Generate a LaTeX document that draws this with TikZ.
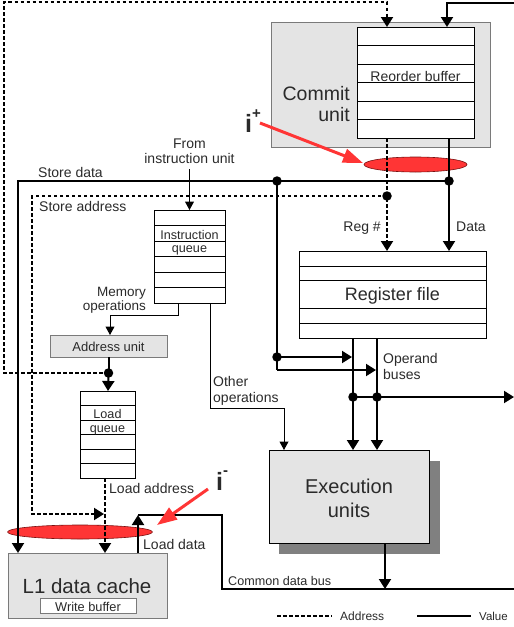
\documentclass[tikz,border=0pt]{standalone}
\usepackage{fontspec}
\setmainfont{Liberation Sans}
\usetikzlibrary{arrows.meta,calc,shapes.geometric}
\definecolor{boxgray}{HTML}{E4E4E4}
\definecolor{edgegray}{HTML}{7A7A7A}
\definecolor{shadowgray}{HTML}{808080}
\definecolor{txt}{HTML}{2A2A2A}
\definecolor{hotred}{HTML}{FF3535}
\definecolor{ellipseedge}{HTML}{7A1010}
\begin{document}
\begin{tikzpicture}[x=1pt,y=-1pt,
  val/.style={line width=2pt},
  addr/.style={line width=2pt,dash pattern=on 3.5pt off 2.5pt},
  fine/.style={line width=1pt},
  tip/.style={-{Triangle[width=12pt,length=10pt]}},
  smalltip/.style={-{Triangle[width=9pt,length=8.5pt]}},
  dot/.style={circle,fill=black,inner sep=0pt,minimum size=9.5pt},
  regbox/.style={draw=black,fill=white,line width=1pt,inner sep=0pt,outer sep=0pt},
  graybox/.style={draw=edgegray,fill=boxgray,line width=1pt,inner sep=0pt,outer sep=0pt},
  rowline/.style={line width=1pt},
  lbl/.style={text=txt,inner sep=0pt,font=\fontsize{14}{16}\selectfont},
  small/.style={text=txt,inner sep=0pt,font=\fontsize{12.6}{14}\selectfont},
  big/.style={text=txt,inner sep=0pt,font=\fontsize{20}{24}\selectfont},
  hot/.style={ellipse,fill=hotred,draw=ellipseedge,line width=0.6pt,inner sep=0pt},
  hotarrow/.style={draw=hotred,line width=3pt,-{Triangle[width=14pt,length=20pt]}},
  ilbl/.style={text=txt,inner sep=0pt,font=\bfseries\fontsize{25}{25}\selectfont}
]
\useasboundingbox (0,0) rectangle (514,627);

% ---------- boxes ----------
\node[graybox,minimum width=219pt,minimum height=125pt] (commit) at (380.5,84.5) {};
\node[text=txt,inner sep=0pt,font=\fontsize{19.5}{21}\selectfont,anchor=base east] (cu1) at (350,100) {Commit};
\node[text=txt,inner sep=0pt,font=\fontsize{19.5}{21}\selectfont,anchor=base east] (cu2) at (350,121) {unit};

\node[regbox,minimum width=117pt,minimum height=111pt] (rob) at (415.5,82.5) {};
\foreach \k in {1,...,5}
  \draw[rowline] ($(rob.north west)+(0,\k*18.5)$) -- ($(rob.north east)+(0,\k*18.5)$);
\node[lbl,anchor=base] (robl) at (415.5,81) {Reorder buffer};

\node[regbox,minimum width=187pt,minimum height=87pt] (regf) at (392.5,294.5) {};
\foreach \d in {15,29,57,72}
  \draw[rowline] ($(regf.north west)+(0,\d)$) -- ($(regf.north east)+(0,\d)$);
\node[text=txt,inner sep=0pt,font=\fontsize{18}{20}\selectfont,anchor=base] (regl) at (392.5,300) {Register file};

\node[regbox,minimum width=71pt,minimum height=93pt] (iq) at (189.5,256.5) {};
\foreach \k in {1,...,5}
  \draw[rowline] ($(iq.north west)+(0,\k*15.5)$) -- ($(iq.north east)+(0,\k*15.5)$);
\node[small,anchor=base] (iql1) at (189.5,239) {Instruction};
\node[small,anchor=base] (iql2) at (189.5,252.5) {queue};

\node[graybox,minimum width=117pt,minimum height=22pt] (au) at (108.5,346) {};
\node[small,anchor=base,font=\fontsize{13}{15}\selectfont] (aul) at (108.5,351) {Address unit};

\node[regbox,minimum width=55pt,minimum height=87pt] (lq) at (108,434.5) {};
\foreach \k in {1,...,5}
  \draw[rowline] ($(lq.north west)+(0,\k*14.5)$) -- ($(lq.north east)+(0,\k*14.5)$);
\node[small,anchor=base] (lql1) at (107.5,418) {Load};
\node[small,anchor=base] (lql2) at (107.5,432) {queue};

\node[graybox,minimum width=159pt,minimum height=65pt] (l1) at (87.5,585.5) {};
\node[big,anchor=base,font=\fontsize{20.5}{24}\selectfont] (l1l) at (87,593) {L1 data cache};
\node[draw=edgegray,fill=white,line width=1pt,inner sep=0pt,outer sep=0pt,minimum width=96pt,minimum height=15pt] (wb) at (88,605.5) {};
\node[small,anchor=base,font=\fontsize{12.8}{14}\selectfont] (wbl) at (88,611) {Write buffer};

\node[fill=shadowgray,inner sep=0pt,outer sep=0pt,minimum width=161pt,minimum height=93pt] (exushadow) at (359.5,507.5) {};
\node[draw=black,fill=boxgray,line width=1pt,inner sep=0pt,outer sep=0pt,minimum width=160pt,minimum height=93pt] (exu) at (349,496.5) {};
\node[big,anchor=base] (exul1) at (349,493) {Execution};
\node[big,anchor=base] (exul2) at (349,517) {units};

% ---------- red marks ----------
\node[hot,minimum width=103pt,minimum height=15pt] (ellplus) at (415.5,164.5) {};
\node[hot,minimum width=145pt,minimum height=14pt] (ellminus) at (80,532) {};

% ---------- coordinates ----------
\coordinate (cTL) at (4,2);
\coordinate (cTR) at (514,2.5);
\coordinate (robA) at (387,27);
\coordinate (robV) at (447,27);
\coordinate (robAb) at (387,138);
\coordinate (robVb) at (449,138);
\coordinate (regfA) at (387,251);
\coordinate (regfV) at (449,251);
\coordinate (cSD) at (18,181);
\coordinate (l1SD) at (18,553);
\coordinate (cSA) at (32,196);
\coordinate (cSAend) at (104,514);
\coordinate (lqLA) at (105,478);
\coordinate (l1LA) at (105,553);
\coordinate (fromEnd) at (189.5,169);
\coordinate (iqM) at (178,303);
\coordinate (cMO) at (110,315);
\coordinate (auM) at (110,335);
\coordinate (iqO) at (210,303);
\coordinate (cOO) at (284,408);
\coordinate (exuO) at (284,450);
\coordinate (cOpB) at (277,370);
\coordinate (opB1) at (352,357);
\coordinate (opB2) at (376,370);
\coordinate (regfB1) at (353,338);
\coordinate (regfB2) at (377,338);
\coordinate (exuB1) at (353,450);
\coordinate (exuB2) at (377,450);
\coordinate (cBR) at (514,397);
\coordinate (exuC) at (385,543);
\coordinate (cdbC) at (385,589);
\coordinate (cdbR) at (514,589);
\coordinate (cCDB) at (222,589);
\coordinate (cLD2) at (222,515);
\coordinate (cLD1) at (138,515);
\coordinate (l1LD) at (138,553);
\coordinate (ipt) at (260,123);
\coordinate (iph) at (363,163);
\coordinate (imt) at (208,489);
\coordinate (imh) at (157,525);
\coordinate (lgA1) at (277,616);
\coordinate (lgA2) at (332,616);
\coordinate (lgV1) at (417,616);
\coordinate (lgV2) at (471,616);

% ---------- dots ----------
\node[dot] (dSD1) at (277,181) {};
\node[dot] (dSD2) at (449,181) {};
\node[dot] (dSA) at (387,196) {};
\node[dot] (dAU) at (108.5,373) {};
\node[dot] (dOp1) at (277,357) {};
\node[dot] (dB1) at (353,397) {};
\node[dot] (dB2) at (377,397) {};

% ---------- connectors ----------
\draw[addr,tip] (dAU.center) -| (cTL) -| (robA);
\draw[val,tip] (cTR) -| (robV);
\draw[val,tip] (robVb) -- (regfV);
\draw[addr,tip] (robAb) -- (regfA);
\draw[val,tip] (dSD2.center) -- (cSD) -- (l1SD);
\draw[addr,tip] (dSA.center) -- (cSA) |- (cSAend);
\draw[addr,tip] (lqLA) -- (l1LA);
\draw[val] (au.south) -- (dAU.center);
\draw[val,tip] (dAU.center) -- (lq.north);
\draw[fine,smalltip] (fromEnd) -- (iq.north);
\draw[fine,smalltip] (iqM) |- (cMO) -- (auM);
\draw[fine,smalltip] (iqO) |- (cOO) -- (exuO);
\draw[val] (dSD1.center) -- (cOpB);
\draw[val,tip] (cOpB) -- (opB2);
\draw[val,tip] (dOp1.center) -- (opB1);
\draw[val,tip] (regfB1) -- (exuB1);
\draw[val,tip] (regfB2) -- (exuB2);
\draw[val,tip] (dB1.center) -- (cBR);
\draw[val,tip] (exuC) -- (cdbC);
\draw[val] (cdbR) -- (cCDB) -- (cLD2) -- (cLD1);
\draw[val,tip] (l1LD) -- (cLD1);
\draw[hotarrow] (ipt) -- (iph);
\draw[hotarrow] (imt) -- (imh);

% ---------- labels ----------
\node[lbl,anchor=base] (from1) at (189.5,148) {From};
\node[lbl,anchor=base] (from2) at (189.5,163) {instruction unit};
\node[lbl,anchor=base west] (sdl) at (38,177) {Store data};
\node[lbl,anchor=base west] (sal) at (39,211) {Store address};
\node[small,anchor=base east,font=\fontsize{13.5}{15}\selectfont] (mo1) at (146,296) {Memory};
\node[small,anchor=base east,font=\fontsize{13.5}{15}\selectfont] (mo2) at (146,310) {operations};
\node[lbl,anchor=base east] (regn) at (381,231) {Reg \#};
\node[lbl,anchor=base west] (datal) at (456,231) {Data};
\node[lbl,anchor=base west] (ob1) at (383,363) {Operand};
\node[lbl,anchor=base west] (ob2) at (383,379) {buses};
\node[lbl,anchor=base west] (oo1) at (213,386) {Other};
\node[lbl,anchor=base west] (oo2) at (213,402) {operations};
\node[lbl,anchor=base west] (lal) at (109,493) {Load address};
\node[lbl,anchor=base west] (ldl) at (143,549) {Load data};
\node[small,anchor=base west] (cdbl) at (228,585) {Common data bus};
\node[ilbl,anchor=base west] (iplus) at (245,132) {i\raisebox{14pt}{\fontsize{15}{15}\selectfont +}};
\node[ilbl,anchor=base west] (iminus) at (216,490) {i\raisebox{15pt}{\fontsize{15}{15}\selectfont -}};

% ---------- legend ----------
\draw[addr] (lgA1) -- (lgA2);
\node[small,anchor=base west,font=\fontsize{12}{14}\selectfont] (lgAl) at (340,620) {Address};
\draw[val] (lgV1) -- (lgV2);
\node[small,anchor=base west,font=\fontsize{11.5}{14}\selectfont] (lgVl) at (479,620) {Value};
\end{tikzpicture}
\end{document}
